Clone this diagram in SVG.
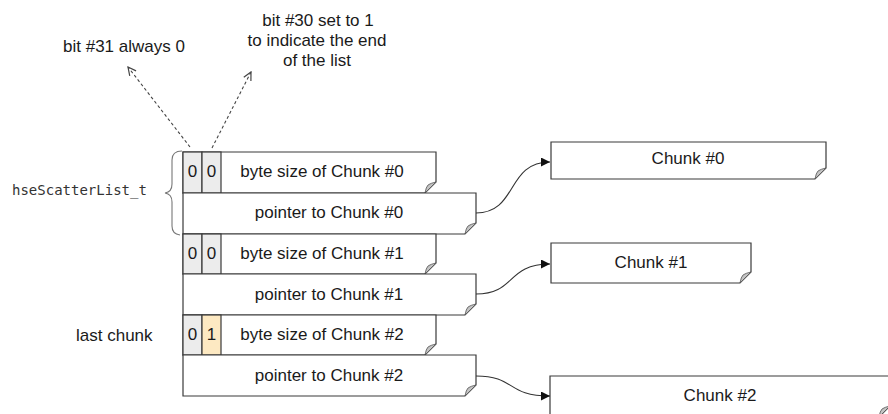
<svg xmlns="http://www.w3.org/2000/svg" width="888" height="414" viewBox="0 0 888 414">
<style>
text{font-family:"Liberation Sans",Arial,sans-serif;font-size:17px;fill:#1a1a1a}
.c{text-anchor:middle}
.mono{font-family:"DejaVu Sans Mono","Liberation Mono",monospace;font-size:14px;fill:#333}
.box{fill:#fff;stroke:#3a3a3a;stroke-width:1.2}
.cell{fill:#ececec;stroke:#3a3a3a;stroke-width:1.2}
.last{fill:#fde9c2;stroke:#3a3a3a;stroke-width:1.2}
.flap{fill:#c4c4c4;stroke:#555;stroke-width:0.8}
.conn{fill:none;stroke:#333;stroke-width:1.1}
.dash{fill:none;stroke:#444;stroke-width:1.1;stroke-dasharray:3 2.5}
.brace{fill:none;stroke:#777;stroke-width:1.1}
</style>
<defs>
<path id="fold" class="flap" d="M0,0 Q1,-6 3,-8 Q6,-10 11,-11 Z"/>
<marker id="ah" viewBox="0 0 10 10" refX="10" refY="5" markerWidth="10" markerHeight="9" markerUnits="userSpaceOnUse" orient="auto">
<path d="M0,0 L10,5 L0,10 Z" fill="#111"/>
</marker>
<marker id="oa" viewBox="0 0 10 10" refX="9" refY="5" markerWidth="10" markerHeight="10" markerUnits="userSpaceOnUse" orient="auto">
<path d="M1,1 L9,5 L1,9" fill="none" stroke="#444" stroke-width="1.2"/>
</marker>
</defs>

<g id="label-bit31">
<text x="63" y="52">bit #31 always 0</text>
</g>
<g id="label-bit30">
<text class="c" x="318" y="26">bit #30 set to 1</text>
<text class="c" x="317" y="46">to indicate the end</text>
<text class="c" x="317" y="66">of the list</text>
</g>
<g id="label-struct">
<text class="mono" x="12" y="195">hseScatterList_t</text>
<path class="brace" d="M182,151 Q172,151 172,160 L172,184 Q172,192 165,193 Q172,194 172,202 L172,226 Q172,234 180,235"/>
</g>
<g id="label-last">
<text x="76" y="341">last chunk</text>
</g>

<g id="entry0">
<path class="box" d="M183,152 H436 V182 L425,193 H183 Z"/>
<use href="#fold" x="425" y="193"/>
<rect class="cell" x="183" y="152" width="19" height="41"/>
<rect class="cell" x="202" y="152" width="19" height="41"/>
<text class="c" x="192.5" y="177">0</text>
<text class="c" x="211.5" y="177">0</text>
<text class="c" x="322" y="177">byte size of Chunk #0</text>
<path class="box" d="M183,193 H476 V223 L465,234 H183 Z"/>
<use href="#fold" x="465" y="234"/>
<text class="c" x="329" y="218">pointer to Chunk #0</text>
</g>

<g id="entry1">
<path class="box" d="M183,234 H436 V263 L425,274 H183 Z"/>
<use href="#fold" x="425" y="274"/>
<rect class="cell" x="183" y="234" width="19" height="40"/>
<rect class="cell" x="202" y="234" width="19" height="40"/>
<text class="c" x="192.5" y="259">0</text>
<text class="c" x="211.5" y="259">0</text>
<text class="c" x="322" y="259">byte size of Chunk #1</text>
<path class="box" d="M183,274 H476 V304 L465,315 H183 Z"/>
<use href="#fold" x="465" y="315"/>
<text class="c" x="329" y="300">pointer to Chunk #1</text>
</g>

<g id="entry2">
<path class="box" d="M183,315 H436 V344 L425,355 H183 Z"/>
<use href="#fold" x="425" y="355"/>
<rect class="cell" x="183" y="315" width="19" height="40"/>
<rect class="last" x="202" y="315" width="19" height="40"/>
<text class="c" x="192.5" y="340">0</text>
<text class="c" x="211.5" y="340">1</text>
<text class="c" x="322" y="340">byte size of Chunk #2</text>
<path class="box" d="M183,355 H476 V385 L465,396 H183 Z"/>
<use href="#fold" x="465" y="396"/>
<text class="c" x="329" y="381">pointer to Chunk #2</text>
</g>

<g id="chunk0">
<path class="box" d="M551,142 H826 V168 L815,179 H551 Z"/>
<use href="#fold" x="815" y="179"/>
<text class="c" x="688" y="164">Chunk #0</text>
</g>
<g id="chunk1">
<path class="box" d="M551,243 H751 V272 L740,283 H551 Z"/>
<use href="#fold" x="740" y="283"/>
<text class="c" x="651" y="268">Chunk #1</text>
</g>
<g id="chunk2">
<path class="box" d="M550,376 H890 V406 L879,417 H550 Z"/>
<use href="#fold" x="879" y="417"/>
<text class="c" x="720" y="401">Chunk #2</text>
</g>

<g id="connectors">
<path class="dash" d="M190,147 L128,67" marker-end="url(#oa)"/>
<path class="dash" d="M212,148 L251,72" marker-end="url(#oa)"/>
<path class="conn" d="M476,213 C518,213 506,162 550,162" marker-end="url(#ah)"/>
<path class="conn" d="M476,294 C516,294 506,264 550,264" marker-end="url(#ah)"/>
<path class="conn" d="M476,376 C516,376 506,396 550,396" marker-end="url(#ah)"/>
</g>
</svg>
